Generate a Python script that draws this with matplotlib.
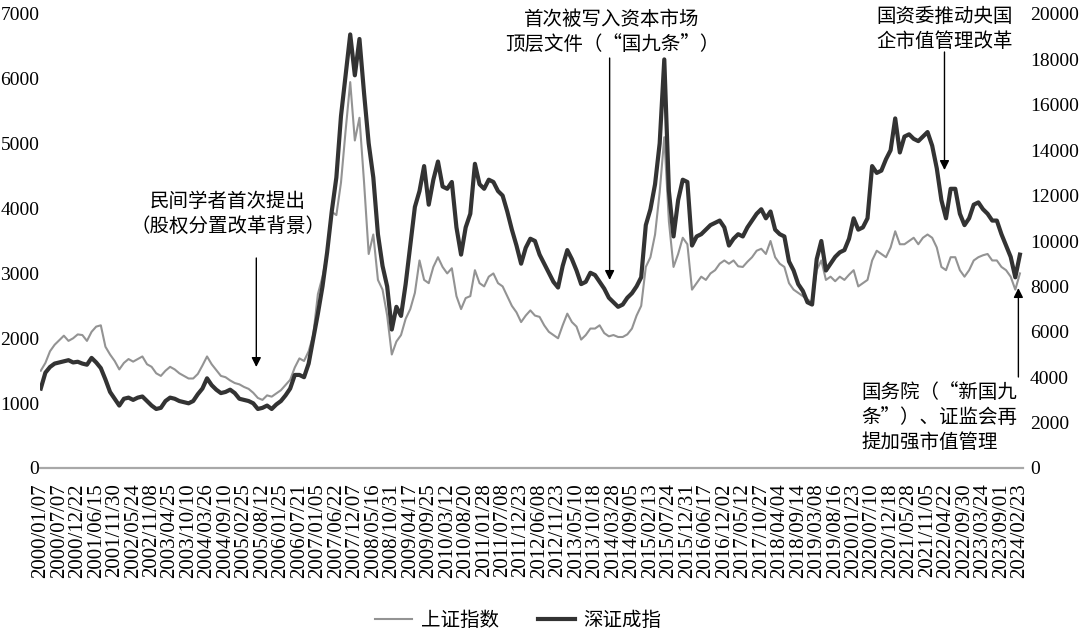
import matplotlib
matplotlib.use("Agg")
import matplotlib.pyplot as plt
import numpy as np

# weekly axis labels, one every 24 trading weeks
tick_dates = [
    "2000/01/07", "2000/07/07", "2000/12/22", "2001/06/15", "2001/11/30",
    "2002/05/24", "2002/11/08", "2003/04/25", "2003/10/10", "2004/03/26",
    "2004/09/10", "2005/02/25", "2005/08/12", "2006/01/25", "2006/07/21",
    "2007/01/05", "2007/06/22", "2007/12/07", "2008/05/16", "2008/10/31",
    "2009/04/17", "2009/09/25", "2010/03/12", "2010/08/20", "2011/01/28",
    "2011/07/08", "2011/12/23", "2012/06/08", "2012/11/23", "2013/05/10",
    "2013/10/18", "2014/03/28", "2014/09/05", "2015/02/13", "2015/07/24",
    "2015/12/31", "2016/06/17", "2016/12/02", "2017/05/12", "2017/10/27",
    "2018/04/04", "2018/09/14", "2019/03/08", "2019/08/16", "2020/01/23",
    "2020/07/10", "2020/12/18", "2021/05/28", "2021/11/05", "2022/04/22",
    "2022/09/30", "2023/03/24", "2023/09/01", "2024/02/23",
]

# 上证指数, sampled every 6 trading weeks (4 per label interval)
sse = [
    1500, 1620, 1800, 1900, 1970, 2040, 1960, 2000, 2060, 2050, 1960, 2100,
    2180, 2200, 1870, 1750, 1650, 1520, 1620, 1680, 1640, 1680, 1720, 1600,
    1560, 1460, 1420, 1500, 1560, 1520, 1460, 1420, 1380, 1380, 1450, 1580,
    1720, 1600, 1510, 1420, 1400, 1350, 1310, 1290, 1250, 1220, 1160, 1080,
    1050, 1120, 1100, 1150, 1200, 1280, 1360, 1550, 1690, 1650, 1800, 2050,
    2680, 2950, 3300, 3950, 3900, 4400, 5200, 5950, 5050, 5400, 4400, 3300,
    3600, 2900, 2750, 2350, 1750, 1950, 2050, 2300, 2450, 2700, 3200, 2900,
    2850, 3100, 3250, 3100, 3000, 3080, 2650, 2450, 2620, 2650, 3050, 2850,
    2800, 2950, 3000, 2850, 2800, 2650, 2500, 2400, 2250, 2350, 2430, 2350,
    2330, 2200, 2100, 2050, 2000, 2200, 2380, 2250, 2180, 1980, 2050, 2150,
    2150, 2200, 2080, 2030, 2050, 2020, 2020, 2060, 2150, 2350, 2500, 3100,
    3250, 3600, 4250, 5100, 3800, 3100, 3300, 3550, 3450, 2750, 2850, 2950,
    2900, 3000, 3050, 3150, 3200, 3150, 3200, 3110, 3100, 3180, 3250, 3350,
    3380, 3300, 3500, 3250, 3150, 3100, 2850, 2750, 2700, 2650, 2600, 2550,
    3050, 3200, 2900, 2950, 2880, 2950, 2900, 2980, 3050, 2800, 2850, 2900,
    3200, 3350, 3300, 3250, 3400, 3650, 3450, 3450, 3500, 3550, 3450, 3550,
    3600, 3550, 3400, 3100, 3050, 3250, 3250, 3050, 2950, 3050, 3200, 3250,
    3280, 3300, 3200, 3200, 3100, 3050, 2950, 2750, 3000,
]

# 深证成指, same sampling
szse = [
    3500, 4200, 4450, 4600, 4650, 4700, 4750, 4650, 4680, 4600, 4550, 4850,
    4650, 4400, 3900, 3350, 3050, 2750, 3050, 3100, 3000, 3100, 3150, 2950,
    2750, 2600, 2650, 2950, 3100, 3050, 2950, 2900, 2850, 2950, 3250, 3500,
    3950, 3650, 3450, 3300, 3350, 3450, 3300, 3050, 3000, 2950, 2850, 2600,
    2650, 2750, 2600, 2800, 2950, 3200, 3500, 4100, 4100, 4000, 4600, 5700,
    6800, 8000, 9500, 11300, 12800, 15500, 17300, 19100, 17300, 18900, 16500, 14300,
    12800, 10300, 8900, 8000, 6100, 7100, 6700, 8100, 9800, 11500, 12200, 13300,
    11600, 12700, 13500, 12400, 12300, 12600, 10600, 9400, 10600, 11200, 13400, 12500,
    12300, 12700, 12600, 12200, 12000, 11300, 10500, 9800, 9000, 9700, 10100, 10000,
    9400, 9000, 8600, 8200, 7950, 8900, 9600, 9200, 8700, 8100, 8200, 8600,
    8500, 8200, 7900, 7500, 7300, 7100, 7200, 7500, 7700, 8000, 8400, 10700,
    11400, 12500, 14300, 18000, 12200, 10200, 11800, 12700, 12600, 9800, 10200, 10300,
    10500, 10700, 10800, 10900, 10600, 9800, 10100, 10300, 10200, 10600, 10900, 11200,
    11400, 11000, 11300, 10500, 10300, 10200, 9100, 8700, 8100, 7800, 7300, 7200,
    9200, 10000, 8700, 9000, 9300, 9500, 9600, 10100, 11000, 10500, 10600, 11000,
    13300, 13000, 13100, 13600, 14000, 15400, 13900, 14600, 14700, 14500, 14400, 14600,
    14800, 14200, 13200, 11800, 11000, 12300, 12300, 11200, 10700, 11000, 11600, 11700,
    11400, 11200, 10900, 10900, 10300, 9800, 9300, 8400, 9400,
]

weeks_per_label = 24
sample_step = 6
weeks = np.arange(len(sse)) * sample_step
tick_weeks = np.arange(len(tick_dates)) * weeks_per_label

num_font = "Liberation Serif"
cjk_font = ["Noto Sans CJK SC", "DejaVu Sans"]
gray_col = "#939393"
dark_col = "#333333"

fig = plt.figure(figsize=(10.8, 6.31), dpi=100)
ax = fig.add_axes([40 / 1080, 163 / 631, 983 / 1080, 454 / 631])
ax2 = ax.twinx()

l1, = ax.plot(weeks, sse, color=gray_col, lw=1.5, solid_joinstyle="round")
l2, = ax2.plot(weeks, szse, color=dark_col, lw=3.0, solid_joinstyle="round")

ax.set_xlim(-1, 1276)
ax.set_ylim(0, 7000)
ax2.set_ylim(0, 20000)

ax.set_yticks(np.arange(0, 7001, 1000))
ax2.set_yticks(np.arange(0, 20001, 2000))
ax.set_xticks(tick_weeks)
ax.set_xticklabels(tick_dates, rotation=90, fontfamily=num_font, fontsize=15)

for a in (ax, ax2):
    for s in a.spines.values():
        s.set_visible(False)
    for lab in a.get_yticklabels():
        lab.set_fontfamily(num_font)
        lab.set_fontsize(14)
ax.spines["bottom"].set_visible(True)
ax.spines["bottom"].set_color("#a8a8a8")
ax.spines["bottom"].set_linewidth(1.6)

ax.tick_params(axis="y", length=0, pad=0.5)
ax2.tick_params(axis="y", length=0, pad=5)
ax.tick_params(axis="x", length=0, pad=11)

arrow_kw = dict(arrowstyle="-|>", color="black", lw=1.0, mutation_scale=14,
                shrinkA=0, shrinkB=0)
txt_kw = dict(family=cjk_font, fontsize=14, linespacing=1.25)

# annotations, positions given on the left (上证) scale
k = 20000 / 7000
ax2.annotate("", xy=(280, 1557 * k), xytext=(280, 3238 * k), arrowprops=arrow_kw)
ax2.text(243, 3920 * k, "民间学者首次提出\n（股权分置改革背景）",
         ha="center", va="center", **txt_kw)

ax2.annotate("", xy=(739, 2899 * k), xytext=(739, 6321 * k), arrowprops=arrow_kw)
ax2.text(742, 6730 * k, "首次被写入资本市场\n顶层文件（“国九条”）",
         ha="center", va="center", **txt_kw)

ax2.annotate("", xy=(1174, 4594 * k), xytext=(1174, 6414 * k), arrowprops=arrow_kw)
ax2.text(1174, 6768 * k, "国资委推动央国\n企市值管理改革",
         ha="center", va="center", **txt_kw)

ax2.annotate("", xy=(1270, 2775 * k), xytext=(1270, 1403 * k), arrowprops=arrow_kw)
ax2.text(1066, 771 * k, "国务院（“新国九\n条”）、证监会再\n提加强市值管理",
         ha="left", va="center", **txt_kw)

fig.legend([l1, l2], ["上证指数", "深证成指"], loc="center", ncol=2,
           bbox_to_anchor=(0.48, 0.017), frameon=False,
           prop={"family": cjk_font, "size": 14},
           handlelength=1.9, handletextpad=0.45, columnspacing=2.0)

fig.savefig("out.png", dpi=100)
